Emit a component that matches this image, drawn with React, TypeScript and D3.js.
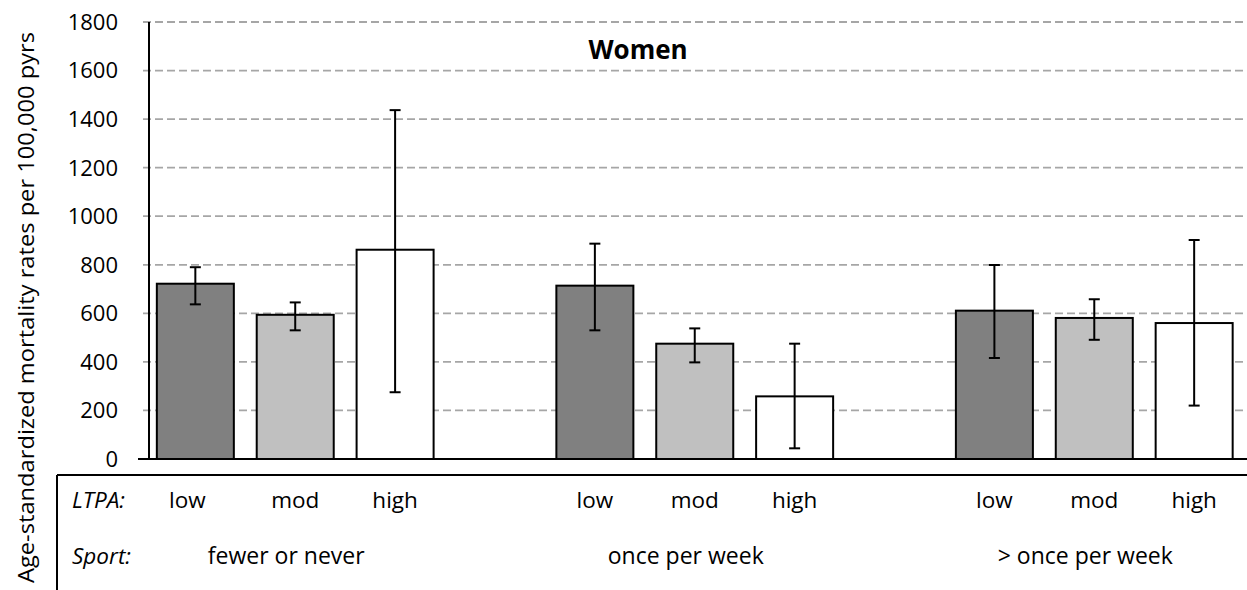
import React from "react";
import * as d3 from "d3";

// Sport frequency groups and LTPA levels
const sportGroups = ["fewer or never", "once per week", "> once per week"];
const ltpaLevels = ["low", "mod", "high"];
const levelFills = ["#808080", "#c0c0c0", "#ffffff"];

// Age-standardized mortality rates per 100,000 person-years, women
const rates = [
  [722, 594, 862],
  [714, 475, 258],
  [611, 581, 560],
];
const ciLower = [
  [637, 530, 275],
  [530, 398, 44],
  [416, 491, 220],
];
const ciUpper = [
  [790, 645, 1437],
  [887, 538, 475],
  [799, 658, 902],
];

const yTicks = [0, 200, 400, 600, 800, 1000, 1200, 1400, 1600, 1800];

const W = 1247;
const H = 590;
const FONT = "'Open Sans', 'Noto Sans', sans-serif";

// one slot per bar plus an empty slot between groups
const slotKeys: string[] = [];
sportGroups.forEach((_, g) => {
  if (g > 0) slotKeys.push(`gap${g}`);
  ltpaLevels.forEach((_, l) => slotKeys.push(`${g}-${l}`));
});

const pad = 0.229;
const x = d3
  .scaleBand<string>()
  .domain(slotKeys)
  .range([145.4, 1244.1])
  .paddingInner(pad)
  .paddingOuter(pad / 2);

const y = d3.scaleLinear().domain([0, 1800]).range([459, 22]);

const axisX = 149;
const tableTop = 475;
const tableLeft = 57;

export default function App() {
  const bw = x.bandwidth();
  const cx = (g: number, l: number) => (x(`${g}-${l}`) as number) + bw / 2;

  return (
    <svg
      width={W}
      height={H}
      style={{ position: "absolute", left: 0, top: 0, background: "#fff" }}
      fontFamily={FONT}
    >
      {/* dashed horizontal gridlines */}
      {yTicks.slice(1).map((t) => (
        <line
          key={`g${t}`}
          x1={143}
          x2={1246}
          y1={y(t)}
          y2={y(t)}
          stroke="#a6a6a6"
          strokeWidth={1.8}
          strokeDasharray="8 4"
        />
      ))}

      {/* y tick labels */}
      {yTicks.map((t) => (
        <text
          key={`t${t}`}
          x={118}
          y={y(t)}
          dy="0.36em"
          textAnchor="end"
          fontSize={22}
          fill="#000"
        >
          {t}
        </text>
      ))}

      {/* bars */}
      {rates.map((row, g) =>
        row.map((v, l) => (
          <rect
            key={`b${g}-${l}`}
            x={x(`${g}-${l}`)}
            y={y(v)}
            width={bw}
            height={y(0) - y(v)}
            fill={levelFills[l]}
            stroke="#000"
            strokeWidth={2}
          />
        ))
      )}

      {/* confidence interval whiskers */}
      {rates.map((row, g) =>
        row.map((_, l) => {
          const c = cx(g, l);
          const lo = y(ciLower[g][l]);
          const hi = y(ciUpper[g][l]);
          return (
            <g key={`e${g}-${l}`} stroke="#000" strokeWidth={2}>
              <line x1={c} x2={c} y1={hi} y2={lo} />
              <line x1={c - 5.5} x2={c + 5.5} y1={hi} y2={hi} />
              <line x1={c - 5.5} x2={c + 5.5} y1={lo} y2={lo} />
            </g>
          );
        })
      )}

      {/* axes */}
      <line x1={axisX} x2={axisX} y1={y(1800)} y2={y(0)} stroke="#000" strokeWidth={2} />
      <line x1={138} x2={W} y1={y(0)} y2={y(0)} stroke="#000" strokeWidth={2} />

      {/* title */}
      <text x={638} y={59} textAnchor="middle" fontSize={26} fontWeight="bold" fill="#000">
        Women
      </text>

      {/* y axis title */}
      <text
        transform="translate(34,307.5) rotate(-90)"
        textAnchor="middle"
        fontSize={22.5}
        textLength={551}
        lengthAdjust="spacingAndGlyphs"
        fill="#000"
      >
        Age-standardized mortality rates per 100,000 pyrs
      </text>

      {/* category table */}
      <line x1={tableLeft} x2={W} y1={tableTop} y2={tableTop} stroke="#000" strokeWidth={2} />
      <line x1={tableLeft} x2={tableLeft} y1={tableTop} y2={H} stroke="#000" strokeWidth={2} />

      <text x={72} y={507.5} fontSize={22.5} fontStyle="italic" fill="#000">
        LTPA:
      </text>
      <text x={72} y={563.5} fontSize={22.5} fontStyle="italic" fill="#000">
        Sport:
      </text>

      {sportGroups.map((grp, g) => (
        <g key={`lab${g}`}>
          {ltpaLevels.map((lv, l) => (
            <text
              key={lv}
              x={cx(g, l) - (g === 0 && l === 0 ? 8 : 0)}
              y={507.5}
              textAnchor="middle"
              fontSize={22.5}
              fill="#000"
            >
              {lv}
            </text>
          ))}
          <text x={cx(g, 1) - 9} y={563.5} textAnchor="middle" fontSize={23} fill="#000">
            {grp}
          </text>
        </g>
      ))}
    </svg>
  );
}
